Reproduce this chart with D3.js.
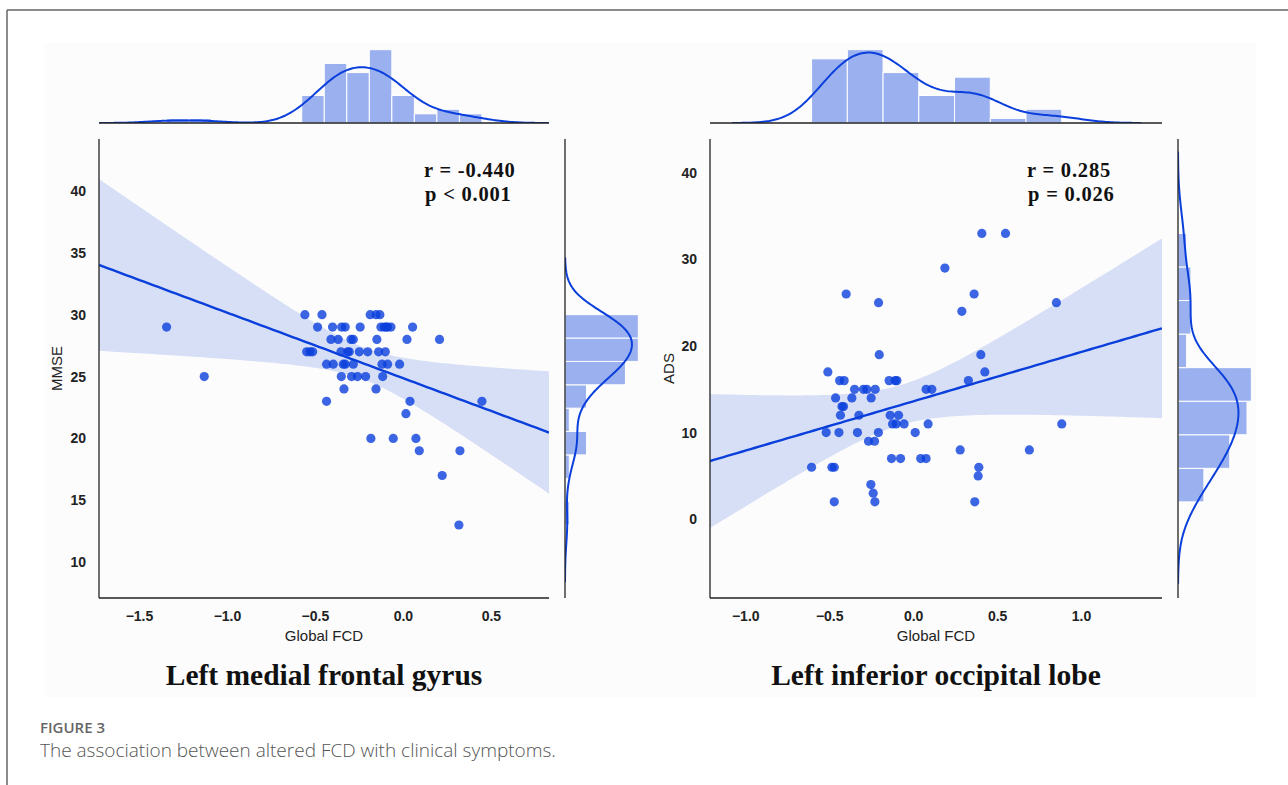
<!DOCTYPE html>
<html>
<head>
<meta charset="utf-8">
<script src="https://cdn.jsdelivr.net/npm/d3@7"></script>
<style>
  body { margin: 0; background: #fff; }
  svg { display: block; }
  .tick text { font-family: "Liberation Sans", Arial, sans-serif; font-weight: bold; font-size: 14px; fill: #222; }
</style>
</head>
<body>
<svg id="fig" width="1288" height="785"></svg>
<script>
// left panel: left medial frontal gyrus, Global FCD vs MMSE
const mfgFcd = [
  -0.557, -0.46, -0.186, -0.153, -0.131,
  -1.343, -0.485, -0.40, -0.348, -0.328, -0.243, -0.125, -0.106, -0.087, -0.068, 0.055, -0.095,
  -0.409, -0.368, -0.295, -0.282, -0.148, 0.023, 0.208,
  -0.547, -0.528, -0.513, -0.352, -0.314, -0.305, -0.248, -0.2, -0.138, -0.1,
  -0.434, -0.396, -0.339, -0.328, -0.282, -0.119, -0.087, -0.019,
  -1.129, -0.35, -0.292, -0.258, -0.212, -0.115,
  -0.335, -0.153,
  -0.434, 0.04, 0.449,
  0.017,
  -0.182, -0.055, 0.074,
  0.093, 0.324,
  0.223,
  0.318
];
const mfgMmse = [
  30, 30, 30, 30, 30,
  29, 29, 29, 29, 29, 29, 29, 29, 29, 29, 29, 29,
  28, 28, 28, 28, 28, 28, 28,
  27, 27, 27, 27, 27, 27, 27, 27, 27, 27,
  26, 26, 26, 26, 26, 26, 26, 26,
  25, 25, 25, 25, 25, 25,
  24, 24,
  23, 23, 23,
  22,
  20, 20, 20,
  19, 19,
  17,
  13
];

// right panel: left inferior occipital lobe, Global FCD vs ADS
const iolFcd = [
  0.409, 0.55,
  0.189,
  -0.399, 0.363,
  -0.206, 0.853,
  0.29,
  -0.202, 0.403,
  -0.508, 0.427,
  -0.438, -0.411, -0.143, -0.107, -0.097, 0.329,
  -0.349, -0.296, -0.276, -0.226, 0.077, 0.111,
  -0.462, -0.365, -0.25,
  -0.424, -0.415,
  -0.433, -0.323, -0.137, -0.087,
  -0.123, -0.101, -0.054, 0.089, 0.885,
  -0.518, -0.442, -0.332, -0.207, 0.012,
  -0.266, -0.23,
  0.28, 0.692,
  -0.129, -0.075, 0.045, 0.077,
  -0.605, -0.484, -0.47, 0.391,
  0.387,
  -0.252,
  -0.238,
  -0.47, -0.228, 0.367
];
const iolAds = [
  33, 33,
  29,
  26, 26,
  25, 25,
  24,
  19, 19,
  17, 17,
  16, 16, 16, 16, 16, 16,
  15, 15, 15, 15, 15, 15,
  14, 14, 14,
  13, 13,
  12, 12, 12, 12,
  11, 11, 11, 11, 11,
  10, 10, 10, 10, 10,
  9, 9,
  8, 8,
  7, 7, 7, 7,
  6, 6, 6, 6,
  5,
  4,
  3,
  2, 2, 2
];

const mfgXTicks = [-1.5, -1.0, -0.5, 0.0, 0.5];
const mfgYTicks = [10, 15, 20, 25, 30, 35, 40];
const iolXTicks = [-1.0, -0.5, 0.0, 0.5, 1.0];
const iolYTicks = [0, 10, 20, 30, 40];

const mfgStats = ['r = -0.440', 'p < 0.001'];
const iolStats = ['r = 0.285', 'p = 0.026'];

const baseColor = '#0a3fdc';
const svg = d3.select('#fig');

// page frame and figure background
svg.append('rect').attr('x', 44).attr('y', 43).attr('width', 1212).attr('height', 654).attr('fill', '#fcfcfc');
svg.append('line').attr('x1', 7).attr('x2', 1288).attr('y1', 10).attr('y2', 10).attr('stroke', '#666').attr('stroke-width', 1.5);
svg.append('line').attr('x1', 7).attr('x2', 7).attr('y1', 10).attr('y2', 785).attr('stroke', '#666').attr('stroke-width', 1.5);

// ciScale widens the analytic band to look like the bootstrap band of the original
drawJoint({
  id: 'mfg', xs: mfgFcd, ys: mfgMmse,
  left: 99, right: 549, top: 139, bottom: 598,
  xDomain: [-1.727, 0.83], yDomain: [7.1, 44.2],
  xTicks: mfgXTicks, yTicks: mfgYTicks, xBins: 14, yBins: 9,
  yLabel: 'MMSE', yLabelX: 62, stats: mfgStats, statsX: 424, ciScale: 1.6,
  title: 'Left medial frontal gyrus'
});
drawJoint({
  id: 'iol', xs: iolFcd, ys: iolAds,
  left: 710, right: 1162, top: 139, bottom: 598,
  xDomain: [-1.21, 1.482], yDomain: [-9.1, 43.9],
  xTicks: iolXTicks, yTicks: iolYTicks, xBins: 7, yBins: 8,
  yLabel: 'ADS', yLabelX: 674, stats: iolStats, statsX: 1027, ciScale: 1.3,
  title: 'Left inferior occipital lobe'
});

// caption
svg.append('text').text('FIGURE 3')
  .attr('x', 40).attr('y', 733)
  .style('font-family', '"Open Sans", sans-serif').style('font-weight', 600)
  .style('font-size', '15px').style('fill', '#666');
svg.append('text').text('The association between altered FCD with clinical symptoms.')
  .attr('x', 40).attr('y', 757)
  .style('font-family', '"Open Sans", sans-serif').style('font-weight', 300)
  .style('font-size', '19px').style('fill', '#555');


function drawJoint(c) {
  const g = svg.append('g').attr('id', c.id);
  const x = d3.scaleLinear().domain(c.xDomain).range([c.left, c.right]);
  const y = d3.scaleLinear().domain(c.yDomain).range([c.bottom, c.top]);
  const fmtX = d3.format('.1f');

  g.append('clipPath').attr('id', c.id + 'clip')
    .append('rect').attr('x', c.left).attr('y', c.top)
    .attr('width', c.right - c.left).attr('height', c.bottom - c.top);

  // regression line with confidence band
  const n = c.xs.length;
  const mx = d3.mean(c.xs), my = d3.mean(c.ys);
  let sxx = 0, sxy = 0;
  c.xs.forEach((v, i) => { sxx += (v - mx) ** 2; sxy += (v - mx) * (c.ys[i] - my); });
  const slope = sxy / sxx, icpt = my - slope * mx;
  let sse = 0;
  c.xs.forEach((v, i) => { sse += (c.ys[i] - icpt - slope * v) ** 2; });
  const s = Math.sqrt(sse / (n - 2));
  const t = 2.001 * c.ciScale;
  const grid = d3.range(101).map(i => c.xDomain[0] + i * (c.xDomain[1] - c.xDomain[0]) / 100);
  const fit = grid.map(v => {
    const yh = icpt + slope * v;
    const se = s * Math.sqrt(1 / n + (v - mx) ** 2 / sxx);
    return { x: v, y: yh, lo: yh - t * se, hi: yh + t * se };
  });

  const plot = g.append('g').attr('clip-path', `url(#${c.id}clip)`);
  plot.append('path')
    .attr('d', d3.area().x(d => x(d.x)).y0(d => y(d.lo)).y1(d => y(d.hi))(fit))
    .attr('fill', baseColor).attr('fill-opacity', 0.15);

  plot.selectAll('circle')
    .data(c.xs.map((v, i) => [v, c.ys[i]]))
    .enter()
    .append('circle')
    .attr('cx', d => x(d[0]))
    .attr('cy', d => y(d[1]))
    .attr('r', 4.6)
    .attr('fill', baseColor)
    .attr('fill-opacity', 0.8);

  plot.append('path')
    .attr('d', d3.line().x(d => x(d.x)).y(d => y(d.y))(fit))
    .attr('fill', 'none').attr('stroke', baseColor).attr('stroke-width', 2.4);

  // spines
  g.append('line').attr('x1', c.left).attr('x2', c.left).attr('y1', c.top).attr('y2', c.bottom)
    .attr('stroke', '#222').attr('stroke-width', 1.3);
  g.append('line').attr('x1', c.left).attr('x2', c.right).attr('y1', c.bottom).attr('y2', c.bottom)
    .attr('stroke', '#222').attr('stroke-width', 1.3);

  // axes
  const xAxis = d3.axisBottom(x).tickValues(c.xTicks).tickFormat(fmtX).tickSize(0).tickPadding(13);
  g.append('g').attr('transform', `translate(0, ${c.bottom})`).call(xAxis)
    .call(a => a.select('.domain').remove());
  const yAxis = d3.axisLeft(y).tickValues(c.yTicks).tickSize(0).tickPadding(13);
  g.append('g').attr('transform', `translate(${c.left}, 0)`).call(yAxis)
    .call(a => a.select('.domain').remove());

  g.append('text').text('Global FCD')
    .attr('x', (c.left + c.right) / 2).attr('y', 641)
    .attr('text-anchor', 'middle')
    .style('font-family', '"Liberation Sans", Arial, sans-serif').style('font-size', '15px').style('fill', '#222');
  g.append('text').text(c.yLabel)
    .attr('transform', `translate(${c.yLabelX}, ${(c.top + c.bottom) / 2}) rotate(-90)`)
    .attr('text-anchor', 'middle')
    .style('font-family', '"Liberation Sans", Arial, sans-serif').style('font-size', '15px').style('fill', '#222');

  // r and p annotation
  c.stats.forEach((txt, i) => {
    g.append('text').text(txt)
      .attr('x', c.statsX + (i === 1 ? 1 : 0)).attr('y', 177 + i * 24)
      .style('font-family', '"Liberation Serif", "Times New Roman", serif')
      .style('font-weight', 'bold').style('font-size', '20.5px')
      .style('letter-spacing', '0.8px').style('fill', '#111');
  });

  g.append('text').text(c.title)
    .attr('x', (c.left + c.right) / 2).attr('y', 685)
    .attr('text-anchor', 'middle')
    .style('font-family', '"Liberation Serif", "Times New Roman", serif')
    .style('font-weight', 'bold').style('font-size', '29.5px').style('fill', '#111');

  // marginal histograms with kde
  const xExt = d3.extent(c.xs), yExt = d3.extent(c.ys);
  const xw = (xExt[1] - xExt[0]) / c.xBins;
  const yw = (yExt[1] - yExt[0]) / c.yBins;
  const xHist = d3.bin().domain(xExt).thresholds(d3.range(1, c.xBins).map(i => xExt[0] + i * xw))(c.xs);
  const yHist = d3.bin().domain(yExt).thresholds(d3.range(1, c.yBins).map(i => yExt[0] + i * yw))(c.ys);
  const xKde = kde(c.xs, xw), yKde = kde(c.ys, yw);

  const margTop = 46, margBase = 123;
  const xMax = d3.max([d3.max(xHist, b => b.length), d3.max(xKde, d => d[1])]) * 1.05;
  const hy = d3.scaleLinear().domain([0, xMax]).range([margBase, margTop]);

  g.append('clipPath').attr('id', c.id + 'clipx')
    .append('rect').attr('x', c.left).attr('y', margTop - 5).attr('width', c.right - c.left).attr('height', margBase - margTop + 5);
  const mx1 = g.append('g').attr('clip-path', `url(#${c.id}clipx)`);
  mx1.selectAll('rect').data(xHist).enter().append('rect')
    .attr('x', d => x(d.x0)).attr('width', d => x(d.x1) - x(d.x0))
    .attr('y', d => hy(d.length)).attr('height', d => margBase - hy(d.length))
    .attr('fill', baseColor).attr('fill-opacity', 0.4)
    .attr('stroke', '#fff').attr('stroke-width', 1);
  mx1.append('path')
    .attr('d', d3.line().x(d => x(d[0])).y(d => hy(d[1]))(xKde))
    .attr('fill', 'none').attr('stroke', baseColor).attr('stroke-width', 2);
  g.append('line').attr('x1', c.left).attr('x2', c.right).attr('y1', margBase).attr('y2', margBase)
    .attr('stroke', '#222').attr('stroke-width', 1.3);

  const margLeft = c.right + 16, margRight = margLeft + 77;
  const yMax = d3.max([d3.max(yHist, b => b.length), d3.max(yKde, d => d[1])]) * 1.05;
  const hx = d3.scaleLinear().domain([0, yMax]).range([margLeft, margRight]);

  g.append('clipPath').attr('id', c.id + 'clipy')
    .append('rect').attr('x', margLeft).attr('y', c.top).attr('width', margRight - margLeft + 5).attr('height', c.bottom - c.top);
  const my1 = g.append('g').attr('clip-path', `url(#${c.id}clipy)`);
  my1.selectAll('rect').data(yHist).enter().append('rect')
    .attr('x', margLeft).attr('width', d => hx(d.length) - margLeft)
    .attr('y', d => y(d.x1)).attr('height', d => y(d.x0) - y(d.x1))
    .attr('fill', baseColor).attr('fill-opacity', 0.4)
    .attr('stroke', '#fff').attr('stroke-width', 1);
  my1.append('path')
    .attr('d', d3.line().x(d => hx(d[1])).y(d => y(d[0]))(yKde))
    .attr('fill', 'none').attr('stroke', baseColor).attr('stroke-width', 2);
  g.append('line').attr('x1', margLeft).attr('x2', margLeft).attr('y1', c.top).attr('y2', c.bottom)
    .attr('stroke', '#222').attr('stroke-width', 1.3);
}

// gaussian kde (scott bandwidth) scaled to histogram counts
function kde(values, binWidth) {
  const n = values.length;
  const bw = d3.deviation(values) * Math.pow(n, -0.2);
  const lo = d3.min(values) - 3 * bw, hi = d3.max(values) + 3 * bw;
  return d3.range(200).map(i => {
    const g = lo + i * (hi - lo) / 199;
    let dens = 0;
    for (let v of values) dens += Math.exp(-0.5 * ((g - v) / bw) ** 2);
    dens /= n * bw * Math.sqrt(2 * Math.PI);
    return [g, dens * n * binWidth];
  });
}
</script>
</body>
</html>
